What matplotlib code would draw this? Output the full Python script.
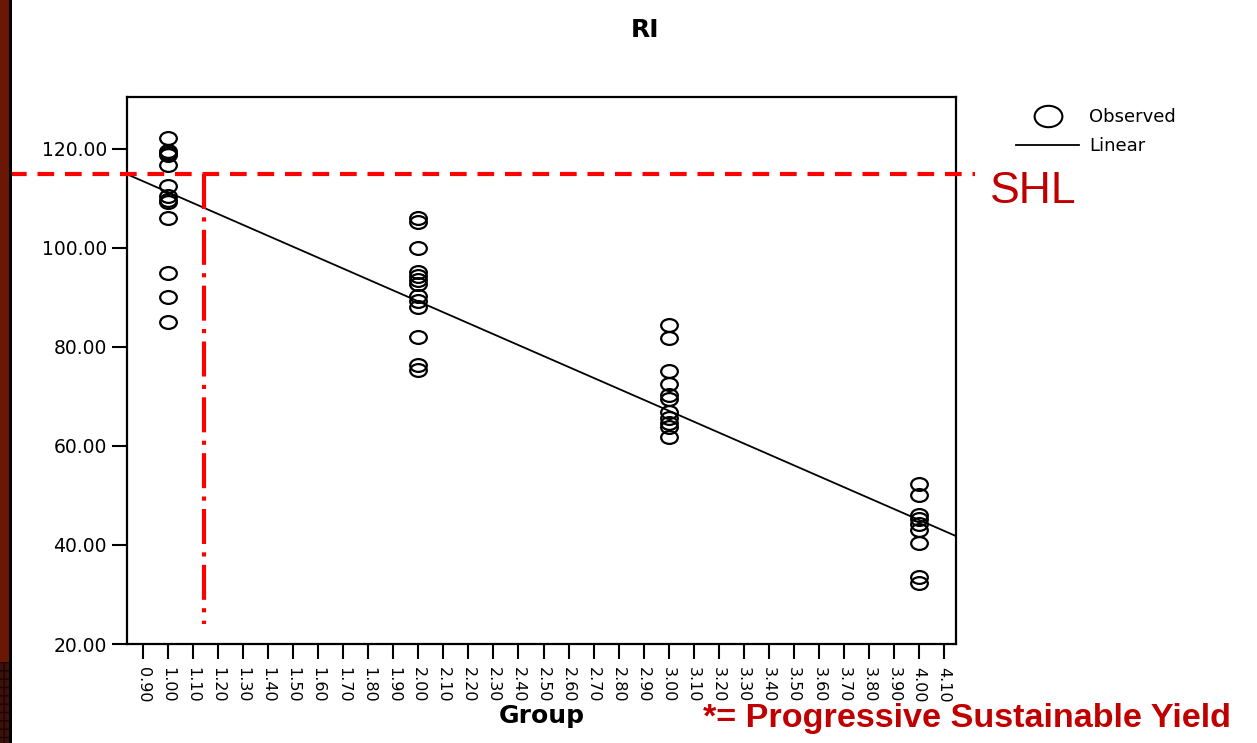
import numpy as np
import matplotlib
matplotlib.use('Agg')
import matplotlib.pyplot as plt
from matplotlib.path import Path
from matplotlib.lines import Line2D
from matplotlib.patches import Rectangle
import matplotlib.transforms as mtrans

group_ids = [1.0, 2.0, 3.0, 4.0]
ri_group1 = [122.3, 119.5, 119.1, 118.8, 116.8, 112.6, 110.5, 109.7, 109.2, 106.0, 95.0, 90.0, 85.1]
ri_group2 = [106.0, 105.3, 100.0, 95.1, 94.4, 93.6, 92.8, 90.2, 89.2, 88.1, 82.1, 76.4, 75.4]
ri_group3 = [84.5, 81.8, 75.1, 72.6, 70.3, 69.4, 66.9, 65.6, 64.6, 63.8, 61.9]
ri_group4 = [52.3, 50.2, 46.0, 45.2, 44.2, 43.0, 40.5, 33.6, 32.3]

# linear fit as drawn
fit_intercept = 133.35
fit_slope = -22.07

shl_value = 114.9
psy_group = 1.145
psy_bottom = 24.0

x_ticks = np.round(np.arange(0.9, 4.1001, 0.1), 2)
y_ticks = [20, 40, 60, 80, 100, 120]

red = '#ff0000'
dark_red = '#c00000'

# circles look squashed (slide image was stretched sideways)
uc = Path.unit_circle()
ell = Path(uc.vertices * np.array([1.3, 1.0]), uc.codes)

fig = plt.figure(figsize=(12.57, 7.43), dpi=100)
ax = fig.add_axes([127/1257, 1-644/743, (956-127)/1257, (644-97)/743])

groups = [ri_group1, ri_group2, ri_group3, ri_group4]
for gx, vals in zip(group_ids, groups):
    ax.plot([gx]*len(vals), vals, ls='none', marker=ell, ms=12,
            mfc='none', mec='black', mew=1.6, zorder=3)

ax.set_xlim(0.836, 4.148)
ax.set_ylim(20, 130.5)
xl = np.array(ax.get_xlim())
ax.plot(xl, fit_intercept + fit_slope*xl, color='black', lw=1.3, zorder=2)

ax.set_xticks(x_ticks)
ax.set_xticklabels(['%.2f' % v for v in x_ticks], rotation=-90, fontsize=11.5)
ax.set_yticks(y_ticks)
ax.set_yticklabels(['%.2f' % v for v in y_ticks], fontsize=13.5)
ax.tick_params(length=10.5, width=1.5, color='black')
ax.tick_params(axis='y', pad=4)
ax.tick_params(axis='x', pad=6)
for s in ax.spines.values():
    s.set_linewidth(1.6)

ax.set_xlabel('Group', fontsize=18, fontweight='bold', labelpad=1)

# SHL reference lines
trans = mtrans.blended_transform_factory(fig.transFigure, ax.transData)
ax.plot([10/1257, 975/1257], [shl_value, shl_value], transform=trans, color=red,
        lw=3, ls=(0, (4, 2.6)), clip_on=False, zorder=4)
ax.plot([psy_group, psy_group], [shl_value, psy_bottom], color=red,
        lw=3, ls=(0, (8.4, 2, 1, 2)), zorder=4)

fig.text(645/1257, 1-30/743, 'RI', fontsize=18, fontweight='bold', ha='center', va='center')
fig.text(990/1257, 1-203/743, 'SHL', fontsize=32, color=dark_red, family='Liberation Sans',
         ha='left', va='baseline')
fig.text(703/1257, 1-727/743, '*= Progressive Sustainable Yield', fontsize=24.6, fontweight='bold',
         color=dark_red, family='Liberation Sans', ha='left', va='baseline')

handles = [Line2D([], [], ls='none', marker=ell, ms=20, mfc='none', mec='black', mew=1.5),
           Line2D([], [], color='black', lw=1.3)]
fig.legend(handles, ['Observed', 'Linear'], loc='upper left',
           bbox_to_anchor=(1016/1257, 1-108/743), frameon=False, fontsize=13,
           handlelength=3.5, handletextpad=0.55, labelspacing=0.62,
           borderpad=0, borderaxespad=0)

# slide edge on the left
fig.patches.append(Rectangle((0, 1-662/743), 9/1257, 662/743, transform=fig.transFigure,
                             facecolor='#6b1706', edgecolor='none', zorder=0))
fig.patches.append(Rectangle((0, 0), 9/1257, 1-662/743, transform=fig.transFigure,
                             facecolor='#3e1108', edgecolor='#1a0503', hatch='++', lw=0, zorder=0))
fig.patches.append(Rectangle((9/1257, 0), 2.5/1257, 1, transform=fig.transFigure,
                             facecolor='black', edgecolor='none', zorder=0))

fig.savefig('out.png', dpi=100)
